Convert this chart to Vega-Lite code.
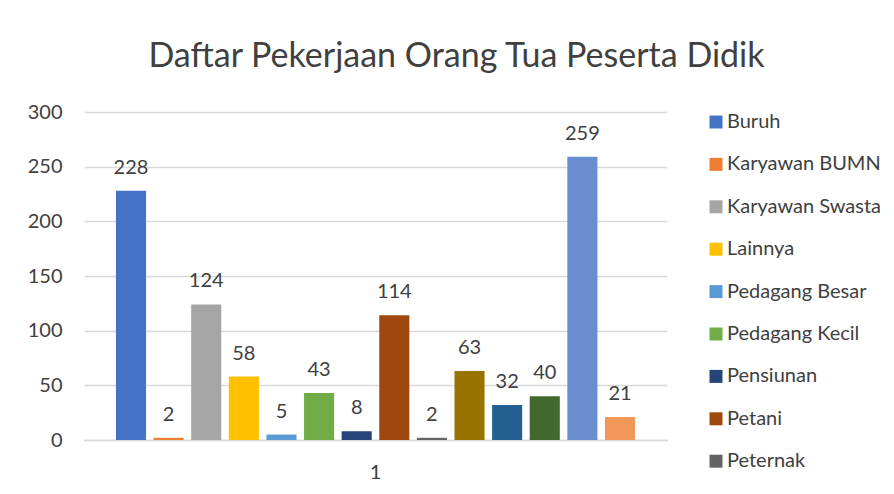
{
  "$schema": "https://vega.github.io/schema/vega-lite/v6.json",
  "autosize": "none",
  "width": 583,
  "height": 328,
  "padding": {"left": 84, "top": 112, "right": 227, "bottom": 54},
  "background": "#ffffff",
  "title": {
    "text": "Daftar Pekerjaan Orang Tua Peserta Didik",
    "font": "Lato",
    "fontSize": 34,
    "fontWeight": "normal",
    "color": "#404040",
    "anchor": "middle",
    "dx": 81,
    "offset": 28
  },
  "data": {
    "values": [
      {"kategori": "1", "pekerjaan": "Buruh", "jumlah": 228},
      {"kategori": "1", "pekerjaan": "Karyawan BUMN", "jumlah": 2},
      {"kategori": "1", "pekerjaan": "Karyawan Swasta", "jumlah": 124},
      {"kategori": "1", "pekerjaan": "Lainnya", "jumlah": 58},
      {"kategori": "1", "pekerjaan": "Pedagang Besar", "jumlah": 5},
      {"kategori": "1", "pekerjaan": "Pedagang Kecil", "jumlah": 43},
      {"kategori": "1", "pekerjaan": "Pensiunan", "jumlah": 8},
      {"kategori": "1", "pekerjaan": "Petani", "jumlah": 114},
      {"kategori": "1", "pekerjaan": "Peternak", "jumlah": 2},
      {"kategori": "1", "pekerjaan": "PNS/TNI/Polri", "jumlah": 63},
      {"kategori": "1", "pekerjaan": "Sudah Meninggal", "jumlah": 32},
      {"kategori": "1", "pekerjaan": "Tidak bekerja", "jumlah": 40},
      {"kategori": "1", "pekerjaan": "Wiraswasta", "jumlah": 259},
      {"kategori": "1", "pekerjaan": "Wirausaha", "jumlah": 21}
    ]
  },
  "encoding": {
    "x": {
      "field": "kategori",
      "type": "nominal",
      "scale": {"paddingInner": 0, "paddingOuter": 0},
      "axis": {
        "title": null,
        "labelAngle": 0,
        "labelFont": "Lato",
        "labelFontSize": 20,
        "labelColor": "#404040",
        "labelPadding": 22,
        "ticks": false,
        "domainColor": "#d9d9d9",
        "domainWidth": 1.5,
        "grid": false
      }
    },
    "xOffset": {
      "field": "pekerjaan",
      "type": "nominal",
      "sort": ["Buruh", "Karyawan BUMN", "Karyawan Swasta", "Lainnya", "Pedagang Besar", "Pedagang Kecil", "Pensiunan", "Petani", "Peternak", "PNS/TNI/Polri", "Sudah Meninggal", "Tidak bekerja", "Wiraswasta", "Wirausaha"],
      "scale": {"paddingInner": 0.2, "paddingOuter": 0.85}
    },
    "y": {
      "field": "jumlah",
      "type": "quantitative",
      "scale": {"domain": [0, 300], "nice": false},
      "axis": {
        "title": null,
        "values": [0, 50, 100, 150, 200, 250, 300],
        "labelFont": "Lato",
        "labelFontSize": 20,
        "labelColor": "#404040",
        "labelPadding": 22,
        "ticks": false,
        "domain": false,
        "gridColor": "#d9d9d9",
        "gridWidth": 1.5
      }
    }
  },
  "layer": [
    {
      "mark": {"type": "bar"},
      "encoding": {
        "color": {
          "field": "pekerjaan",
          "type": "nominal",
          "scale": {
            "domain": ["Buruh", "Karyawan BUMN", "Karyawan Swasta", "Lainnya", "Pedagang Besar", "Pedagang Kecil", "Pensiunan", "Petani", "Peternak", "PNS/TNI/Polri", "Sudah Meninggal", "Tidak bekerja", "Wiraswasta", "Wirausaha"],
            "range": ["#4472C4", "#ED7D31", "#A5A5A5", "#FFC000", "#5B9BD5", "#70AD47", "#264478", "#9E480E", "#636363", "#997300", "#255E91", "#43682B", "#698ED0", "#F1975A"]
          },
          "legend": {
            "title": null,
            "orient": "right",
            "offset": 39,
            "padding": 0,
            "values": ["Buruh", "Karyawan BUMN", "Karyawan Swasta", "Lainnya", "Pedagang Besar", "Pedagang Kecil", "Pensiunan", "Petani", "Peternak"],
            "symbolType": "square",
            "symbolSize": 169,
            "symbolStrokeWidth": 0,
            "labelFont": "Lato",
            "labelFontSize": 20,
            "labelColor": "#404040",
            "labelOffset": 1,
            "rowPadding": 22.4,
            "labelLimit": 300
          }
        }
      }
    },
    {
      "mark": {"type": "text", "font": "Lato", "fontSize": 20, "color": "#404040", "baseline": "alphabetic", "dy": -17},
      "encoding": {
        "text": {"field": "jumlah", "type": "quantitative"}
      }
    }
  ],
  "config": {
    "view": {"stroke": null}
  }
}
